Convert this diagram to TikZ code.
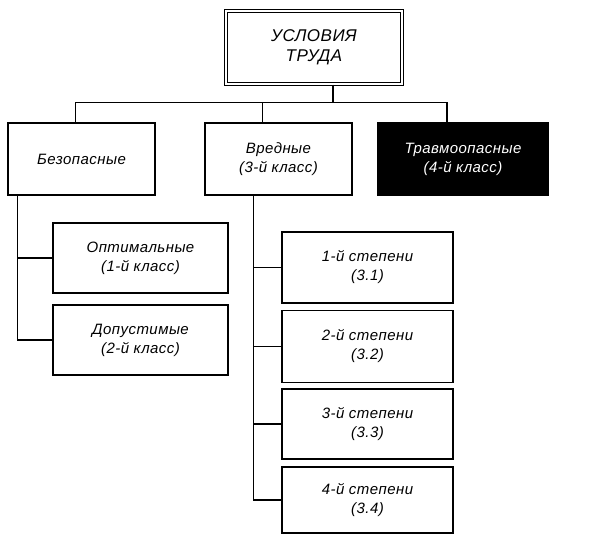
\documentclass[tikz,border=0pt]{standalone}
\usepackage{fontspec}
\setmainfont[LetterSpace=3]{Liberation Sans}
\usetikzlibrary{positioning}

\tikzset{
  box/.style={draw, line width=1.3pt, align=center, font=\itshape\fontsize{15}{19}\selectfont, inner sep=2pt},
  link/.style={line width=1.3pt}
}

\begin{document}
\begin{tikzpicture}[x=1pt, y={(0pt,-1pt)}]
    \useasboundingbox (0,0) rectangle (612,537);
    \node[box, double, line width=1.1pt, double distance=1.8pt, minimum width=176pt, minimum height=73pt, font=\itshape\fontsize{17}{20}\selectfont] (top) at (314, 47.5) {УСЛОВИЯ\\ТРУДА};

    \node[box, minimum width=147pt, minimum height=72pt] (safe) at (81.5, 159) {Безопасные};
    \node[box, minimum width=147pt, minimum height=72pt] (harm) at (278.5, 159) {Вредные\\(3-й класс)};
    \node[box, fill=black, text=white, minimum width=170pt, minimum height=72pt] (extreme) at (463, 159) {Травмоопасные\\(4-й класс)};

    \node[box, minimum width=175pt, minimum height=70pt] (opt) at (140.5, 258) {Оптимальные\\(1-й класс)};
    \node[box, minimum width=175pt, minimum height=70pt] (adm) at (140.5, 340) {Допустимые\\(2-й класс)};

    \node[box, minimum width=171pt, minimum height=71pt] (d1) at (367.5, 267.5) {1-й степени\\(3.1)};
    \node[box, minimum width=171pt, minimum height=72pt] (d2) at (367.5, 346.5) {2-й степени\\(3.2)};
    \node[box, minimum width=171pt, minimum height=70pt] (d3) at (367.5, 424) {3-й степени\\(3.3)};
    \node[box, minimum width=171pt, minimum height=66pt] (d4) at (367.5, 500) {4-й степени\\(3.4)};

    % bus under the top box
    \draw[link] ([xshift=19pt]top.south) -- ++(0,18) coordinate (bus);
    \draw[link] ([xshift=-6pt]safe.north) |- ([xshift=-16pt]extreme.north |- bus) -- ([xshift=-16pt]extreme.north);
    \draw[link] ([xshift=-16pt]harm.north |- bus) -- ([xshift=-16pt]harm.north);

    % safe branch
    \draw[link] ([xshift=10pt]safe.south west) |- (opt.west);
    \draw[link] ([xshift=10pt]safe.south west) |- (adm.west);

    % harmful branch
    \foreach \d in {d1,d2,d3,d4}
        \draw[link] ([xshift=49pt]harm.south west) |- (\d.west);
\end{tikzpicture}
\end{document}
